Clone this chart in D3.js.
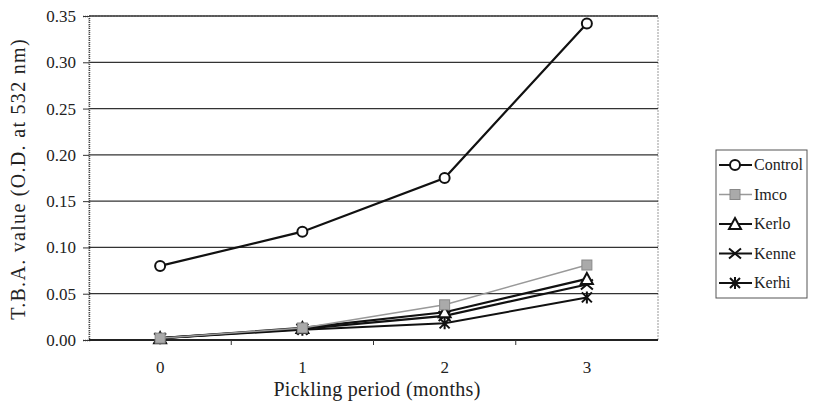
<!DOCTYPE html>
<html>
<head>
<meta charset="utf-8">
<script src="https://cdn.jsdelivr.net/npm/d3@7"></script>
<style>
  body { margin: 0; background: #fff; }
  svg { font-family: "Liberation Serif", "DejaVu Serif", serif; }
</style>
</head>
<body>
<svg id="chart" width="819" height="409"></svg>
<script>
var months = ["0", "1", "2", "3"];
var yTicks = [0, 0.05, 0.10, 0.15, 0.20, 0.25, 0.30, 0.35];

var control = [0.080, 0.117, 0.175, 0.342];
var imco    = [0.002, 0.013, 0.038, 0.081];
var kerlo   = [0.002, 0.013, 0.030, 0.066];
var kenne   = [0.002, 0.012, 0.026, 0.060];
var kerhi   = [0.002, 0.011, 0.018, 0.046];

var seriesNames = ["Control", "Imco", "Kerlo", "Kenne", "Kerhi"];
var seriesData = [control, imco, kerlo, kenne, kerhi];

var svg = d3.select("#chart");
var plotLeft = 89, plotRight = 658, plotTop = 16, plotBottom = 340;

var x = d3.scaleBand().domain(months).range([plotLeft, plotRight]);
var y = d3.scaleLinear().domain([0, 0.35]).range([plotBottom, plotTop]);

// plot frame
svg.append("rect")
  .attr("x", plotLeft).attr("y", plotTop)
  .attr("width", plotRight - plotLeft).attr("height", plotBottom - plotTop)
  .attr("fill", "#fff").attr("stroke", "#999").attr("stroke-width", 1)
  .attr("stroke-dasharray", "2,1");

// gridlines
svg.append("g").selectAll("line")
  .data(yTicks.slice(1))
  .enter().append("line")
  .attr("x1", plotLeft).attr("x2", plotRight)
  .attr("y1", function(d) { return y(d); })
  .attr("y2", function(d) { return y(d); })
  .attr("stroke", "#333").attr("stroke-width", 1.3);

// y axis
var yAxis = d3.axisLeft(y).tickValues(yTicks).tickFormat(d3.format(".2f")).tickSize(6).tickPadding(7);
var gy = svg.append("g").attr("transform", "translate(" + plotLeft + ",0)").call(yAxis);
gy.select(".domain").attr("stroke", "#444").attr("stroke-width", 1.5).attr("stroke-dasharray", "1,1");
gy.selectAll(".tick line").attr("stroke", "#333");
gy.selectAll("text").attr("font-size", 17).attr("fill", "#222")
  .attr("font-family", "Liberation Serif, serif");

// x axis, ticks between categories
var gx = svg.append("g").attr("transform", "translate(0," + plotBottom + ")");
gx.append("line").attr("x1", plotLeft).attr("x2", plotRight)
  .attr("stroke", "#222").attr("stroke-width", 1.8);
gx.selectAll(".sep")
  .data(months.slice(1))
  .enter().append("line")
  .attr("x1", function(d) { return x(d); })
  .attr("x2", function(d) { return x(d); })
  .attr("y1", 0).attr("y2", 5)
  .attr("stroke", "#333");
gx.selectAll("text")
  .data(months)
  .enter().append("text")
  .attr("x", function(d) { return x(d) + x.bandwidth() / 2; })
  .attr("y", 33)
  .attr("text-anchor", "middle")
  .attr("font-size", 17).attr("fill", "#222")
  .text(function(d) { return d; });

// axis titles
svg.append("text")
  .attr("transform", "translate(25,179) rotate(-90)")
  .attr("text-anchor", "middle")
  .attr("font-size", 20).attr("letter-spacing", 1.3).attr("fill", "#222")
  .text("T.B.A. value (O.D. at 532 nm)");
svg.append("text")
  .attr("x", 377).attr("y", 396)
  .attr("text-anchor", "middle")
  .attr("font-size", 20).attr("letter-spacing", 0.3).attr("fill", "#222")
  .text("Pickling period (months)");

var lineColor = ["#111", "#999", "#111", "#111", "#111"];
var lineWidth = [2.2, 1.5, 2.2, 2.2, 2];

function drawMarker(g, i) {
  var c = lineColor[i];
  if (i == 0) {
    g.append("circle").attr("r", 5).attr("fill", "#fff").attr("stroke", c).attr("stroke-width", 2);
  } else if (i == 1) {
    g.append("rect").attr("x", -5).attr("y", -5).attr("width", 10).attr("height", 10)
      .attr("fill", "#aaa").attr("stroke", "#888");
  } else if (i == 2) {
    g.append("path").attr("d", "M0,-6L6,5L-6,5Z").attr("fill", "#fff")
      .attr("stroke", c).attr("stroke-width", 2);
  } else if (i == 3) {
    g.append("path").attr("d", "M-6,-5L6,5M-6,5L6,-5").attr("stroke", c).attr("stroke-width", 2);
  } else {
    g.append("path").attr("d", "M-5,-5L5,5M-5,5L5,-5M0,-6L0,6").attr("stroke", c).attr("stroke-width", 2);
  }
}

var line = d3.line()
  .x(function(d, j) { return x(months[j]) + x.bandwidth() / 2; })
  .y(function(d) { return y(d); });

// draw series in reverse so control/imco sit on top
for (var i = seriesData.length - 1; i >= 0; i--) {
  svg.append("path")
    .datum(seriesData[i])
    .attr("d", line)
    .attr("fill", "none")
    .attr("stroke", lineColor[i])
    .attr("stroke-width", lineWidth[i]);
  seriesData[i].forEach(function(v, j) {
    var g = svg.append("g")
      .attr("transform", "translate(" + (x(months[j]) + x.bandwidth() / 2) + "," + y(v) + ")");
    drawMarker(g, i);
  });
}

// legend
var lg = svg.append("g").attr("transform", "translate(716,150)");
lg.append("rect").attr("width", 91).attr("height", 148)
  .attr("fill", "#fff").attr("stroke", "#555").attr("stroke-width", 1);
seriesNames.forEach(function(name, i) {
  var yy = 15 + i * 29.5;
  lg.append("line").attr("x1", 3).attr("x2", 36).attr("y1", yy).attr("y2", yy)
    .attr("stroke", lineColor[i]).attr("stroke-width", lineWidth[i]);
  var g = lg.append("g").attr("transform", "translate(19," + yy + ")");
  drawMarker(g, i);
  lg.append("text").attr("x", 38).attr("y", yy + 5)
    .attr("font-size", 16).attr("fill", "#222")
    .text(name);
});
</script>
</body>
</html>
